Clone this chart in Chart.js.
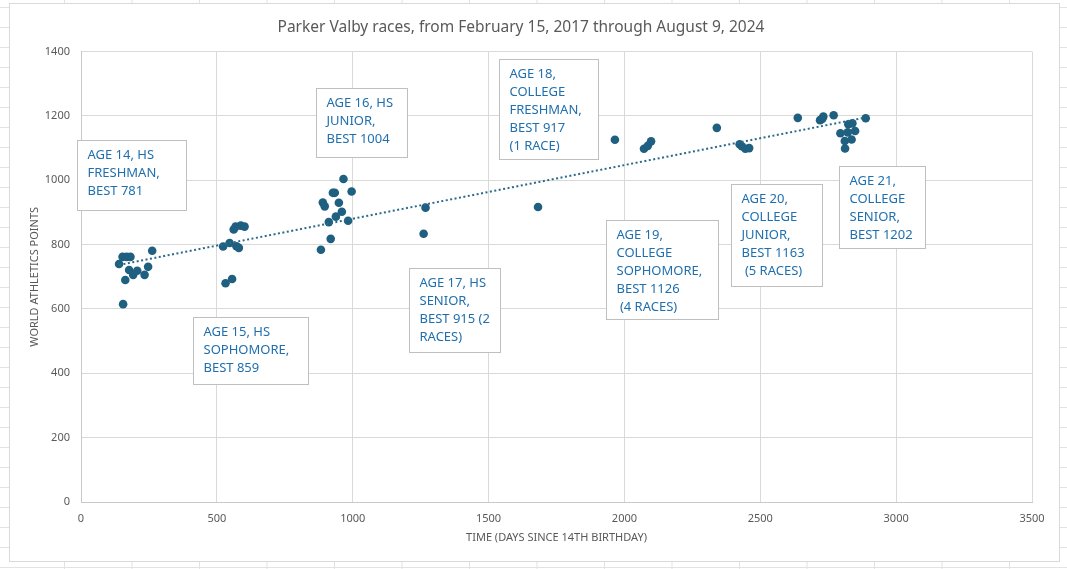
<!DOCTYPE html>
<html><head><meta charset="utf-8">
<script src="https://cdn.jsdelivr.net/npm/chart.js@4.4.1/dist/chart.umd.min.js"></script>
<style>
html,body{margin:0;padding:0;}
body{width:1067px;height:569px;overflow:hidden;background-color:#fff;
background-image:linear-gradient(#e3e3e3 1px, transparent 1px), linear-gradient(90deg,#e3e3e3 1px, transparent 1px);
background-size:67.5px 20px;background-position:64px 7px;}
#frame{position:absolute;left:9px;top:3px;width:1049px;height:557px;border:1px solid #d9d9d9;background:#fff;}
canvas{display:block;}
</style></head>
<body>
<div id="frame"><canvas id="c" width="1049" height="557"></canvas></div>
<script>
// ---- data (days since 14th birthday, World Athletics points), by season ----
const age14Days = [140,153,168,182,163,155,177,192,207,234,247,262];
const age14Pts  = [740,762,762,762,690,615,721,706,719,706,731,781];
const age15Days = [523,547,562,569,588,602,572,581,532,556];
const age15Pts  = [794,805,847,856,859,856,795,790,680,693];
const age16Days = [883,890,897,912,919,927,934,938,949,960,966,983,996];
const age16Pts  = [784,931,919,870,818,961,961,887,930,902,1004,874,965];
const age17Days = [1261,1268];
const age17Pts  = [834,915];
const age18Days = [1682];
const age18Pts  = [917];
const age19Days = [1965,2072,2086,2098];
const age19Pts  = [1126,1098,1107,1121];
const age20Days = [2340,2424,2432,2445,2459];
const age20Pts  = [1163,1112,1106,1098,1100];
const age21Days = [2638,2720,2728,2732,2770,2888,2824,2839,2795,2822,2849,2811,2836,2812];
const age21Pts  = [1194,1187,1191,1198,1202,1193,1174,1177,1146,1149,1153,1122,1127,1099];

const xTicks = [0,500,1000,1500,2000,2500,3000,3500];
const yTicks = [0,200,400,600,800,1000,1200,1400];

const chartTitle = 'Parker Valby races, from February 15, 2017 through August 9, 2024';
const xTitle = 'TIME (DAYS SINCE 14TH BIRTHDAY)';
const yTitle = 'WORLD ATHLETICS POINTS';

const annoLabels = [
  ['AGE 14, HS','FRESHMAN,','BEST 781'],
  ['AGE 15, HS','SOPHOMORE,','BEST 859'],
  ['AGE 16, HS','JUNIOR,','BEST 1004'],
  ['AGE 17, HS','SENIOR,','BEST 915 (2','RACES)'],
  ['AGE 18,','COLLEGE','FRESHMAN,','BEST 917','(1 RACE)'],
  ['AGE 19,','COLLEGE','SOPHOMORE,','BEST 1126',' (4 RACES)'],
  ['AGE 20,','COLLEGE','JUNIOR,','BEST 1163',' (5 RACES)'],
  ['AGE 21,','COLLEGE','SENIOR,','BEST 1202']
];
// ---- layout of the text boxes (top-left anchor in data units, size in px) ----
const annoLayout = [
  {x:-15, y:1125, w:109, h:70},
  {x:412, y:575, w:115, h:67},
  {x:865, y:1288, w:91, h:69},
  {x:1207, y:728, w:91, h:84},
  {x:1538, y:1378, w:99, h:100},
  {x:1932, y:875, w:112, h:99},
  {x:2392, y:988, w:91, h:102},
  {x:2790, y:1044, w:86, h:82}
];

const allDays = [].concat(age14Days,age15Days,age16Days,age17Days,age18Days,age19Days,age20Days,age21Days);
const allPts  = [].concat(age14Pts,age15Pts,age16Pts,age17Pts,age18Pts,age19Pts,age20Pts,age21Pts);
const points = allDays.map((d,i)=>({x:d,y:allPts[i]}));

// linear trendline (least squares) from the data
const n = allDays.length;
const mx = allDays.reduce((a,b)=>a+b,0)/n, my = allPts.reduce((a,b)=>a+b,0)/n;
let sxy=0,sxx=0;
for(let i=0;i<n;i++){sxy+=(allDays[i]-mx)*(allPts[i]-my);sxx+=(allDays[i]-mx)**2;}
const slope=sxy/sxx, icpt=my-slope*mx;
const xMin=Math.min(...allDays), xMax=Math.max(...allDays);
const trend=[{x:xMin,y:icpt+slope*xMin},{x:xMax,y:icpt+slope*xMax}];

const FONT='"Noto Sans", "DejaVu Sans", sans-serif';
const MARK='#1f5f80';

const annoPlugin = {
  id:'annos',
  afterDatasetsDraw(chart){
    const {ctx, scales:{x,y}} = chart;
    ctx.save();
    annoLabels.forEach((lines,i)=>{
      const L = annoLayout[i];
      const px = Math.round(x.getPixelForValue(L.x))+0.5;
      const py = Math.round(y.getPixelForValue(L.y))+0.5;
      ctx.fillStyle='#ffffff'; ctx.fillRect(px,py,L.w,L.h);
      ctx.strokeStyle='#bfbfbf'; ctx.lineWidth=1; ctx.strokeRect(px,py,L.w,L.h);
      ctx.fillStyle='#1f6fae'; ctx.font='13px '+FONT; ctx.textBaseline='middle'; ctx.textAlign='left';
      lines.forEach((t,j)=>ctx.fillText(t, px+10, py+15+j*18));
    });
    ctx.restore();
  }
};

new Chart(document.getElementById('c'), {
  data:{datasets:[
    {type:'scatter', data:points, backgroundColor:MARK, borderColor:MARK, borderWidth:0, pointRadius:4.3, order:2},
    {type:'line', data:trend, borderColor:'#2b6a8a', borderWidth:2, borderDash:[2,2.5], pointRadius:0, fill:false, order:1}
  ]},
  options:{
    responsive:false, animation:false,
    layout:{padding:{left:0,right:27,top:0,bottom:15}},
    plugins:{
      legend:{display:false}, tooltip:{enabled:false},
      title:{display:true, text:chartTitle, color:'#595959', font:{family:FONT,size:15.5,weight:'normal'}, padding:{top:14,bottom:15}}
    },
    scales:{
      x:{type:'linear', min:0, max:3500, afterBuildTicks:s=>{s.ticks=xTicks.map(v=>({value:v}));},
        afterFit:s=>{s.height=44;},
        ticks:{color:'#595959', font:{family:FONT,size:11}, padding:10, callback:v=>String(v)},
        grid:{color:'#d9d9d9', drawTicks:false}, border:{color:'#c9c9c9'},
        title:{display:true, text:xTitle, color:'#595959', font:{family:FONT,size:11}, padding:{top:0,bottom:2}}},
      y:{type:'linear', min:0, max:1400, afterBuildTicks:s=>{s.ticks=yTicks.map(v=>({value:v}));},
        afterFit:s=>{s.width=71;},
        ticks:{color:'#595959', font:{family:FONT,size:11}, padding:11, callback:v=>String(v)},
        grid:{color:'#d9d9d9', drawTicks:false}, border:{color:'#c9c9c9'},
        title:{display:true, text:yTitle, color:'#595959', font:{family:FONT,size:11}, padding:{top:18,bottom:0}}}
    }
  },
  plugins:[annoPlugin]
});
</script>
</body></html>
